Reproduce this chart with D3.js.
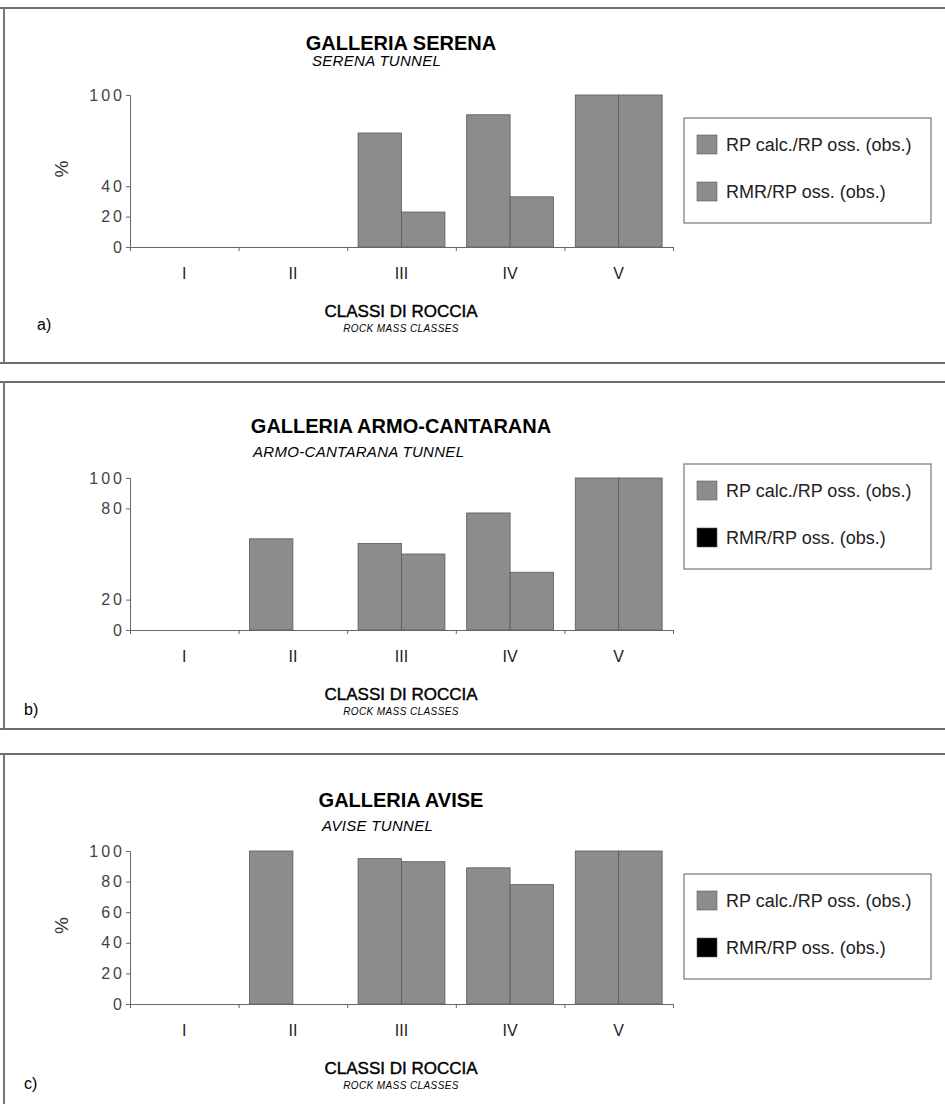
<!DOCTYPE html>
<html>
<head>
<meta charset="utf-8">
<script src="https://cdn.jsdelivr.net/npm/d3@7"></script>
<style>
  body { margin: 0; background: #fff; }
  svg text { font-family: "Liberation Sans", Arial, Helvetica, sans-serif; }
</style>
</head>
<body>
<svg class="canvas"></svg>
<script>
/*
	rock mass classes bar charts - three tunnels
*/

var dwidth = 945;
var dheight = 1104;

// data
var classes = ["I", "II", "III", "IV", "V"];
var seriesNames = ["RP calc./RP oss. (obs.)", "RMR/RP oss. (obs.)"];

var serenaCalc = [0, 0, 75, 87, 100];
var serenaRmr = [0, 0, 23, 33, 100];
var armoCalc = [0, 60, 57, 77, 100];
var armoRmr = [0, 0, 50, 38, 100];
var aviseCalc = [0, 100, 95, 89, 100];
var aviseRmr = [0, 0, 93, 78, 100];

var ticksA = [0, 20, 40, 100];
var ticksB = [0, 20, 80, 100];
var ticksC = [0, 20, 40, 60, 80, 100];

var titles = ["GALLERIA SERENA", "GALLERIA ARMO-CANTARANA", "GALLERIA AVISE"];
var subtitles = ["SERENA TUNNEL", "ARMO-CANTARANA TUNNEL", "AVISE TUNNEL"];
var letters = ["a)", "b)", "c)"];

// layout per panel (a, b, c)
var frameTop = [8, 382, 754];
var frameBot = [363, 729, null];
var titleY = [50, 433, 807];
var subY = [66, 457, 831];
var y100 = [95, 478, 851];
var y0 = [247, 630, 1004];
var legTop = [118, 464, 874];
var swatch2Col = ["#8c8c8c", "#000", "#000"];
var showPct = [true, false, true];

var panels = [
	{calc: serenaCalc, rmr: serenaRmr, ticks: ticksA},
	{calc: armoCalc, rmr: armoRmr, ticks: ticksB},
	{calc: aviseCalc, rmr: aviseRmr, ticks: ticksC}
];

var canv = d3.select(".canvas").attr("width", dwidth).attr("height", dheight);

var axL = 130, axR = 673;
var sx = d3.scaleBand().domain(classes).range([axL, axR]).paddingInner(0.2).paddingOuter(0.1);
var sxi = d3.scaleBand().domain([0, 1]).range([0, sx.bandwidth()]);
var sb = d3.scaleLinear().domain([0, 5]).range([axL, axR]);

panels.forEach(function(p, i) {
	var g = canv.append("g");

	// frame
	g.append("line").attr("x1", 0).attr("x2", dwidth).attr("y1", frameTop[i]).attr("y2", frameTop[i])
		.attr("stroke", "#6e6e6e").attr("stroke-width", 2);
	var fb = frameBot[i] == null ? dheight : frameBot[i];
	if (frameBot[i] != null) {
		g.append("line").attr("x1", 0).attr("x2", dwidth).attr("y1", fb).attr("y2", fb)
			.attr("stroke", "#6e6e6e").attr("stroke-width", 2);
	}
	g.append("line").attr("x1", 4).attr("x2", 4).attr("y1", frameTop[i]).attr("y2", fb)
		.attr("stroke", "#777").attr("stroke-width", 2);

	// titles
	g.append("text").attr("x", 401).attr("y", titleY[i]).text(titles[i])
		.attr("font-size", "20px").attr("font-weight", "bold").style("text-anchor", "middle");
	g.append("text").attr("x", i == 0 ? 312 : (i == 1 ? 253 : 322)).attr("y", subY[i]).text(subtitles[i])
		.attr("font-size", "15px").attr("font-style", "italic").attr("letter-spacing", "0.3px");

	var sy = d3.scaleLinear().domain([0, 100]).range([y0[i], y100[i]]);

	// bars
	var rows = [];
	classes.forEach(function(c, k) {
		rows.push({cls: c, s: 0, v: p.calc[k]});
		rows.push({cls: c, s: 1, v: p.rmr[k]});
	});
	g.selectAll("rect.bar").data(rows.filter(function(d) { return d.v > 0; }))
		.enter().append("rect")
		.attr("class", "bar")
		.attr("x", function(d) { return sx(d.cls) + sxi(d.s); })
		.attr("width", sxi.bandwidth())
		.attr("y", function(d) { return sy(d.v); })
		.attr("height", function(d) { return sy(0) - sy(d.v); })
		.style("fill", "#8c8c8c")
		.style("stroke", "#5a5a5a")
		.style("stroke-width", 0.8);

	// y axis
	var ya = g.append("g").attr("transform", "translate(" + axL + ",0)")
		.call(d3.axisLeft(sy).tickValues(p.ticks).tickSize(4).tickPadding(1));
	ya.select(".domain").attr("stroke", "#666");
	ya.selectAll(".tick line").attr("stroke", "#666");
	ya.selectAll("text").attr("font-size", "16px").attr("letter-spacing", "3px")
		.attr("fill", "#444").attr("font-family", "Liberation Sans, Arial, sans-serif");

	// x axis (ticks at class boundaries)
	var xa = g.append("g").attr("transform", "translate(0," + y0[i] + ")")
		.call(d3.axisBottom(sb).tickValues([1, 2, 3, 4, 5]).tickSize(4).tickFormat(""));
	xa.select(".domain").attr("stroke", "#666");
	xa.selectAll(".tick line").attr("stroke", "#666");

	// class labels
	g.selectAll("text.cls").data(classes).enter().append("text")
		.attr("class", "cls")
		.attr("x", function(d) { return sx(d) + sx.bandwidth() / 2; })
		.attr("y", y0[i] + 32)
		.text(function(d) { return d; })
		.attr("font-size", "16px")
		.attr("fill", "#222")
		.style("text-anchor", "middle");

	if (showPct[i]) {
		var py = (y0[i] + y100[i]) / 2 - 2;
		g.append("text").attr("transform", "translate(68," + py + ") rotate(-90)")
			.text("%").attr("font-size", "19px").attr("fill", "#333").style("text-anchor", "middle");
	}

	// axis title
	g.append("text").attr("x", 401).attr("y", y0[i] + 70).text("CLASSI DI ROCCIA")
		.attr("font-size", "17px").style("text-anchor", "middle")
		.attr("stroke", "#000").attr("stroke-width", 0.4);
	g.append("text").attr("x", 401).attr("y", y0[i] + 85).text("ROCK MASS CLASSES")
		.attr("font-size", "10px").attr("font-style", "italic").attr("letter-spacing", "0.4px")
		.style("text-anchor", "middle");
	g.append("text").attr("x", i == 0 ? 37 : 24).attr("y", y0[i] + (i == 0 ? 83 : 85)).text(letters[i])
		.attr("font-size", "16px");

	// legend
	var lg = g.append("g").attr("transform", "translate(684," + legTop[i] + ")");
	lg.append("rect").attr("width", 247).attr("height", 105)
		.style("fill", "#fff").style("stroke", "#777").style("stroke-width", 1.2);
	lg.selectAll("rect.sw").data(seriesNames).enter().append("rect")
		.attr("class", "sw")
		.attr("x", 13).attr("y", function(d, k) { return 17 + k * 47; })
		.attr("width", 20).attr("height", 19)
		.style("fill", function(d, k) { return k == 0 ? "#8c8c8c" : swatch2Col[i]; })
		.style("stroke", "#5a5a5a").style("stroke-width", 0.6);
	lg.selectAll("text").data(seriesNames).enter().append("text")
		.attr("x", 42).attr("y", function(d, k) { return 33 + k * 47; })
		.text(function(d) { return d; })
		.attr("font-size", "18px").attr("fill", "#222");
});
</script>
</body>
</html>
